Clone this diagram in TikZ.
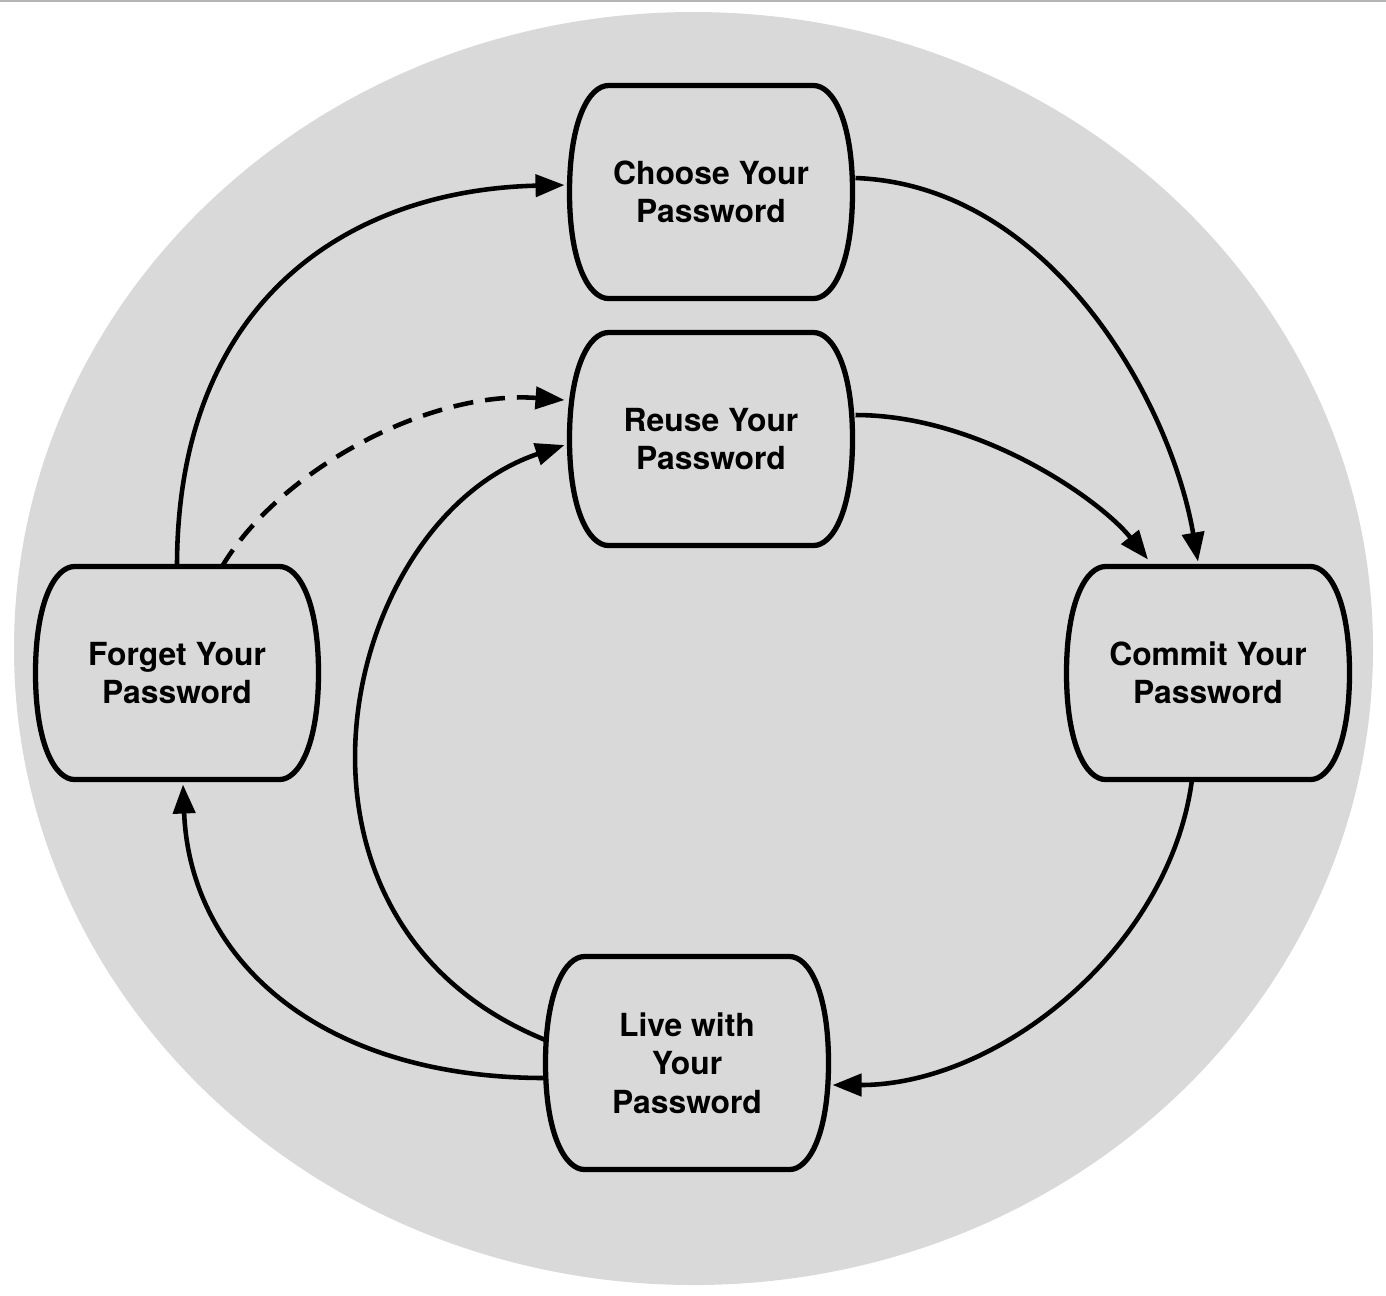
\documentclass[tikz,border=0pt]{standalone}
\usepackage{fontspec}
\setmainfont{TeX Gyre Heros}
\usepackage{xcolor}
\usetikzlibrary{arrows.meta,positioning,calc}

\definecolor{disc}{HTML}{D9D9D9}
\definecolor{rim}{HTML}{B4B4B4}

\begin{document}
\begin{tikzpicture}[
  stage/.style={rectangle, inner sep=0pt, outer sep=0pt, minimum width=2.83cm, minimum height=2.13cm,
    align=center, font=\fontsize{9.05}{10.9}\selectfont\bfseries},
  outline/.style={line width=1.5pt, line join=round},
  arrow/.style={line width=1.3pt, -{Triangle[length=0.29cm,width=0.22cm]}}
]
\useasboundingbox (0,0) rectangle (13.86,-12.95);
\draw[rim, line width=0.8pt] (0,-0.01) -- (13.86,-0.01);
\fill[disc] (6.935,-6.485) ellipse [x radius=6.795cm, y radius=6.365cm];

\node[stage] (choose) at (7.11,-1.92) {Choose Your\\Password};
\node[stage] (reuse) at (7.11,-4.39) {Reuse Your\\Password};
\node[stage] (commit) at (12.08,-6.73) {Commit Your\\Password};
\node[stage] (forget) at (1.77,-6.73) {Forget Your\\Password};
\node[stage] (live) at (6.87,-10.63) {Live with\\Your\\Password};

% barrel outlines
\foreach \n in {choose,reuse,commit,forget,live}
  \draw[outline] ([xshift=0.39cm]\n.north west) -- ([xshift=-0.39cm]\n.north east)
    .. controls ([xshift=-0.2cm]\n.north east) and ([yshift=-0.34cm]\n.north east) .. (\n.east)
    .. controls ([yshift=0.34cm]\n.south east) and ([xshift=-0.2cm]\n.south east) .. ([xshift=-0.39cm]\n.south east)
    -- ([xshift=0.39cm]\n.south west)
    .. controls ([xshift=0.2cm]\n.south west) and ([yshift=0.34cm]\n.south west) .. (\n.west)
    .. controls ([yshift=-0.34cm]\n.north west) and ([xshift=0.2cm]\n.north west) .. cycle;

\draw[arrow] (forget.north) .. controls +(0,2.67) and +(-2.15,-0.05) .. ([yshift=0.07cm,xshift=-0.05cm]choose.west);
\draw[arrow, dash pattern=on 0.2cm off 0.12cm] ([xshift=0.45cm]forget.north) .. controls +(0.58,0.97) and +(-1.35,0.10) .. ([yshift=0.39cm,xshift=-0.05cm]reuse.west);
\draw[arrow] ([yshift=0.23cm]live.west) .. controls +(-2.96,1.20) and +(-2.25,-0.75) .. ([yshift=-0.06cm,xshift=-0.05cm]reuse.west);
\draw[arrow] ([yshift=-0.15cm]live.west) .. controls +(-2.26,0) and +(0.07,-1.75) .. ([xshift=0.06cm,yshift=-0.05cm]forget.south);
\draw[arrow] ([xshift=-0.16cm]commit.south) .. controls +(-0.22,-1.68) and +(1.67,0) .. ([yshift=-0.22cm,xshift=0.04cm]live.east);
\draw[arrow] ([yshift=0.14cm,xshift=0.03cm]choose.east) .. controls +(1.94,-0.07) and +(-0.28,1.62) .. ([xshift=-0.10cm,yshift=0.05cm]commit.north);
\draw[arrow] ([yshift=0.24cm,xshift=0.03cm]reuse.east) .. controls +(1.24,0) and +(-0.48,0.6) .. ([xshift=-0.60cm,yshift=0.07cm]commit.north);
\end{tikzpicture}
\end{document}
